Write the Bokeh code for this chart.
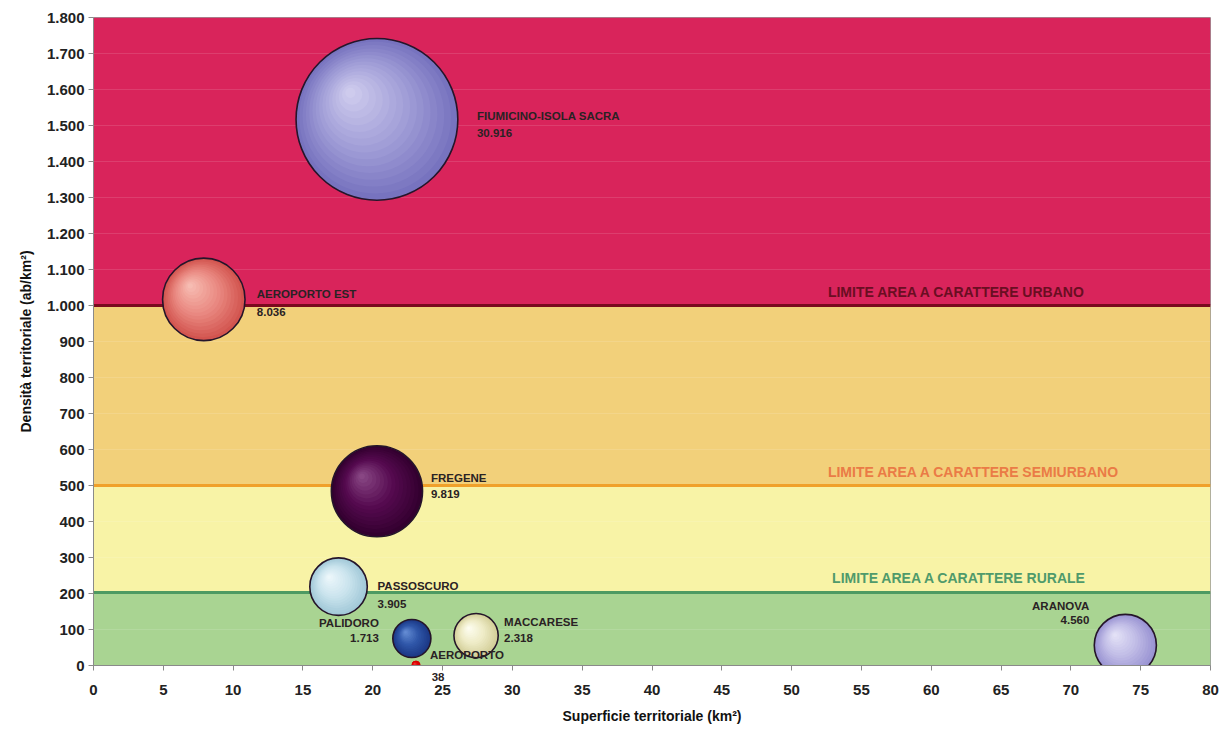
import math
from bokeh.plotting import figure
from bokeh.models import (ColumnDataSource, BoxAnnotation, Span, Label, FixedTicker,
                          LinearAxis)
from bokeh.embed import file_html
from bokeh.resources import INLINE

# ---------------- data ----------------
names = ["FIUMICINO-ISOLA SACRA", "AEROPORTO EST", "FREGENE", "PASSOSCURO",
         "PALIDORO", "MACCARESE", "AEROPORTO", "ARANOVA"]
superficie = [20.3, 7.9, 20.3, 17.55, 22.8, 27.4, 23.1, 73.9]      # km2
densita = [1517, 1017, 484, 219, 75, 83, 1, 56]                   # ab/km2
popolazione = [30916, 8036, 9819, 3905, 1713, 2318, 38, 4560]

limit_values = [1000, 500, 203]
limit_labels = ["LIMITE AREA A CARATTERE URBANO",
                "LIMITE AREA A CARATTERE SEMIURBANO",
                "LIMITE AREA A CARATTERE RURALE"]

x_ticks = list(range(0, 81, 5))
y_ticks = list(range(0, 1801, 100))

# ---------------- styles ----------------
FONT = "Liberation Sans"
W, H = 1223, 737
L, R, T, B = 93, 13, 17, 72
FW, FH = W - L - R, H - T - B
XMAX, YMAX = 80, 1800
XPP, YPP = XMAX / FW, YMAX / FH   # data units per pixel

bubble_colors = [  # edge, mid, highlight
    ("#7773BF", "#A29FD8", "#D4D1F0"),
    ("#D2544F", "#EA8A82", "#F8C2B8"),
    ("#33002F", "#560A50", "#8E4E8A"),
    ("#A2C9D8", "#CBE4EE", "#F0F9FC"),
    ("#1B3885", "#2F56A8", "#6A92D8"),
    ("#D2CE98", "#EEEBC6", "#FFFFF4"),
    ("#D00000", "#E00000", "#F04040"),
    ("#9993D2", "#C0BCE6", "#E8E6F8"),
]
# label offsets in px: dx, dy(name), dx(value), dy(value) (+ = up), align
label_style = [
    (100, 3, 100, -14, "left"),
    (53, 5, 53, -13, "left"),
    (54, 13, 54, -3, "left"),
    (39, 1, 39, -17, "left"),
    (-33, 16, -33, 1, "right"),
    (28, 14, 28, -2, "left"),
    (14, 10, 15, -8, "left"),
    (-36, 39, -36, 25, "right"),
]

p = figure(width=W, height=H, output_backend="svg", toolbar_location=None,
           x_range=(0, XMAX), y_range=(0, YMAX),
           min_border_left=L, min_border_right=R, min_border_top=T, min_border_bottom=B,
           background_fill_color="white", border_fill_color="white")
p.outline_line_color = "#9a9a9a"
main_x = p.xaxis[0]
main_y = p.yaxis[0]

# bands
band_edges = [0] + sorted(limit_values) + [YMAX]
band_colors = ["#A9D492", "#F8F3A6", "#F2D07A", "#D9245B"]
for (lo, hi), c in zip(zip(band_edges[:-1], band_edges[1:]), band_colors):
    p.add_layout(BoxAnnotation(bottom=lo, top=hi, fill_color=c, fill_alpha=1,
                               line_alpha=0, level="image"))

# grid
p.xgrid.grid_line_color = None
p.ygrid.ticker = FixedTicker(ticks=y_ticks)
p.ygrid.grid_line_color = "white"
p.ygrid.grid_line_alpha = 0.12
p.ygrid.level = "underlay"

# limit lines + labels
line_colors = ["#7A0A1E", "#F0A02A", "#4E9A62"]
text_colors = ["#6A0E22", "#EA7B46", "#4F9A6B"]
label_x = [52.6, 52.6, 52.9]
for v, lab, lc, tc, lx in zip(limit_values, limit_labels, line_colors, text_colors, label_x):
    p.add_layout(Span(location=v, dimension="width", line_color=lc, line_width=3,
                      level="underlay"))
    p.add_layout(Label(x=lx, y=v, y_offset=14, text=lab, text_color=tc,
                       text_font=FONT, text_font_size="14px", text_font_style="bold",
                       text_baseline="middle", text_align="left"))


def hex2rgb(h):
    h = h.lstrip("#")
    return tuple(int(h[i:i + 2], 16) for i in (0, 2, 4))


def mix(c1, c2, t):
    a, b = hex2rgb(c1), hex2rgb(c2)
    return "#%02x%02x%02x" % tuple(int(round(a[i] + (b[i] - a[i]) * t)) for i in range(3))


N = 16
for i in range(len(names)):
    x, y, pop = superficie[i], densita[i], popolazione[i]
    d = max(0.92 * math.sqrt(pop), 9)
    edge, mid, light = bubble_colors[i]
    hx = x - 0.35 * (d / 2) * XPP
    hy = y + 0.35 * (d / 2) * YPP
    xs, ys, ss, cs = [], [], [], []
    for k in range(N):
        t = k / N
        xs.append(x + (hx - x) * t)
        ys.append(y + (hy - y) * t)
        ss.append(d * (1 - t))
        if t < 0.45:
            cs.append(mix(edge, mid, t / 0.45))
        else:
            cs.append(mix(mid, light, (t - 0.45) / 0.55))
    src = ColumnDataSource(dict(x=xs, y=ys, s=ss, c=cs))
    p.scatter("x", "y", size="s", fill_color="c", line_color=None, source=src)
    if pop > 100:
        p.scatter([x], [y], size=d, fill_alpha=0, line_color="#25152a", line_width=1.6)

# bubble labels (values that would fall below the frame go to an extra axis row)
below_ticks, below_labels = [], {}
for i in range(len(names)):
    dxn, dyn, dxv, dyv, al = label_style[i]
    val = f"{popolazione[i]:,}".replace(",", ".")
    for j, (txt, dx, dy) in enumerate(((names[i], dxn, dyn), (val, dxv, dyv))):
        if densita[i] + dy * YPP < 0:
            tx = superficie[i] + (dx + 7) * XPP
            below_ticks.append(tx)
            below_labels[tx] = txt
            continue
        p.add_layout(Label(x=superficie[i], y=densita[i], x_offset=dx, y_offset=dy,
                           text=txt, text_align=al, text_baseline="middle",
                           text_font=FONT, text_font_size="11.5px",
                           text_font_style="bold", text_color="#2a2224"))

# axes
for ax in (main_x, main_y):
    ax.axis_line_color = "#8a8a8a"
    ax.major_tick_line_color = "#8a8a8a"
    ax.major_tick_out = 5
    ax.major_tick_in = 0
    ax.minor_tick_line_color = None
    ax.major_label_text_font = FONT
    ax.major_label_text_font_size = "15px"
    ax.major_label_text_font_style = "bold"
    ax.major_label_text_color = "#222222"
    ax.axis_label_text_font = FONT
    ax.axis_label_text_font_size = "14px"
    ax.axis_label_text_font_style = "bold"
    ax.axis_label_text_color = "#111111"

main_x.ticker = FixedTicker(ticks=x_ticks)
main_y.ticker = FixedTicker(ticks=y_ticks)
main_y.major_label_overrides = {v: f"{v:,}".replace(",", ".") for v in y_ticks}
main_x.axis_label = "Superficie territoriale (km²)"
main_y.axis_label = "Densità territoriale (ab/km²)"
main_x.major_label_standoff = 12
main_x.axis_label_standoff = 10
main_y.major_label_standoff = 4
main_y.axis_label_standoff = 10

if below_ticks:
    # inner axis row: axis line + 5-step tick marks (as minor ticks) + the "38" label
    extra = LinearAxis(ticker=FixedTicker(ticks=below_ticks, minor_ticks=x_ticks),
                       major_label_overrides=below_labels,
                       axis_line_color="#8a8a8a",
                       major_tick_line_color=None, major_tick_out=0, major_tick_in=0,
                       minor_tick_line_color="#8a8a8a", minor_tick_out=5, minor_tick_in=0,
                       major_label_standoff=2,
                       major_label_text_font=FONT, major_label_text_font_size="11.5px",
                       major_label_text_font_style="bold",
                       major_label_text_color="#2a2224")
    main_x.axis_line_color = None
    main_x.major_tick_line_color = None
    main_x.major_tick_out = 0
    main_x.major_label_standoff = 1
    p.below = [extra] + list(p.below)

open("out.html", "w").write(file_html(p, INLINE))
